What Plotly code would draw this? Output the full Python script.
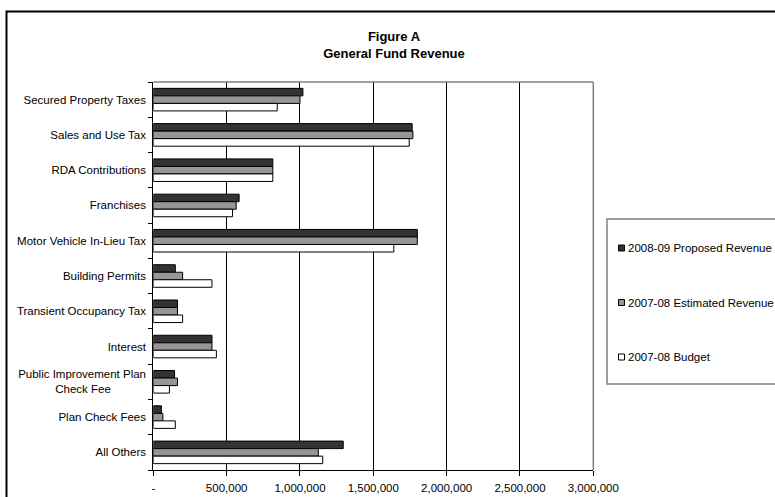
import plotly.graph_objects as go

# Revenue sources, top to bottom
categories = [
    "Secured Property Taxes",
    "Sales and Use Tax",
    "RDA Contributions",
    "Franchises",
    "Motor Vehicle In-Lieu Tax",
    "Building Permits",
    "Transient Occupancy Tax",
    "Interest",
    "Public Improvement Plan Check Fee",
    "Plan Check Fees",
    "All Others",
]

proposed_2008_09 = [1020000, 1765000, 815000, 585000, 1800000, 150000, 165000, 400000, 145000, 55000, 1295000]
estimated_2007_08 = [1000000, 1770000, 815000, 565000, 1800000, 200000, 165000, 400000, 165000, 65000, 1125000]
budget_2007_08 = [845000, 1745000, 815000, 540000, 1640000, 400000, 200000, 430000, 110000, 150000, 1155000]

series_names = ["2008-09 Proposed Revenue", "2007-08 Estimated Revenue", "2007-08 Budget"]
series_values = [proposed_2008_09, estimated_2007_08, budget_2007_08]
series_colors = ["#333333", "#969696", "#ffffff"]

x_tick_values = [0, 500000, 1000000, 1500000, 2000000, 2500000, 3000000]
x_tick_labels = ["-", "500,000", "1,000,000", "1,500,000", "2,000,000", "2,500,000", "3,000,000"]

W, H = 775, 497
FONT = "Liberation Sans, Arial, sans-serif"
TXT = 11.5


def px(x):
    return x / W


def py(y):
    return 1 - y / H


# Long category names wrap onto a second, centred line
NBSP = "\u00a0"
tick_text = []
for c in categories:
    if c == "Public Improvement Plan Check Fee":
        tick_text.append("Public Improvement Plan<br>Check Fee" + NBSP * 11)
    else:
        tick_text.append(c)

fig = go.Figure()
for name, vals, color in zip(series_names, series_values, series_colors):
    fig.add_trace(go.Bar(
        y=categories,
        x=vals,
        name=name,
        orientation="h",
        marker=dict(color=color, line=dict(color="#000000", width=1)),
        showlegend=False,
    ))

shapes = [
    # outer chart frame (left and top edges; runs off the right and bottom)
    dict(type="path", xref="paper", yref="paper",
         path=f"M {px(6.5)},0 L {px(6.5)},{py(11.5)} L 1,{py(11.5)}",
         line=dict(color="#000000", width=2)),
    # plot area top and right edges
    dict(type="line", xref="x domain", yref="y domain", x0=0, x1=1, y0=1, y1=1,
         line=dict(color="#808080", width=1.5)),
    dict(type="line", xref="x domain", yref="y domain", x0=1, x1=1, y0=0, y1=1,
         line=dict(color="#808080", width=1.5)),
    # legend frame
    dict(type="path", xref="paper", yref="paper",
         path=f"M 1,{py(219)} L {px(607)},{py(219)} L {px(607)},{py(384)} L 1,{py(384)}",
         line=dict(color="#808080", width=1.5)),
]

annotations = []
legend_y = [248, 302.5, 357]
for name, color, ly in zip(series_names, series_colors, legend_y):
    shapes.append(dict(type="rect", xref="paper", yref="paper",
                       x0=px(618.5), x1=px(624.5), y0=py(ly + 3), y1=py(ly - 3),
                       line=dict(color="#000000", width=1), fillcolor=color))
    annotations.append(dict(xref="paper", yref="paper", x=px(625.5), y=py(ly),
                            xanchor="left", yanchor="middle", showarrow=False,
                            text=name, font=dict(family=FONT, size=TXT, color="#000000")))

fig.update_layout(
    width=W, height=H,
    autosize=False,
    margin=dict(l=0, r=0, t=0, b=0, pad=0, autoexpand=False),
    paper_bgcolor="#ffffff",
    plot_bgcolor="#ffffff",
    barmode="group",
    bargap=0.36,
    bargroupgap=0,
    font=dict(family=FONT, size=TXT, color="#000000"),
    title=dict(
        text="<b>Figure A<br>General Fund Revenue</b>",
        x=px(394), xanchor="center",
        y=py(41), yanchor="middle",
        font=dict(family=FONT, size=13, color="#000000"),
    ),
    xaxis=dict(
        domain=[px(153.3), px(593.3)],
        range=[0, 3000000],
        automargin=False,
        tickmode="array",
        tickvals=x_tick_values,
        ticktext=x_tick_labels,
        ticks="outside", ticklen=5, tickcolor="#000000", tickwidth=1,
        showline=True, linecolor="#000000", linewidth=1,
        showgrid=True, gridcolor="#000000", gridwidth=1,
        zeroline=False,
        ticklabelstandoff=2,
        tickfont=dict(family=FONT, size=TXT, color="#000000"),
    ),
    yaxis=dict(
        domain=[py(470), py(82)],
        type="category",
        autorange=False,
        automargin=False,
        range=[len(categories) - 0.5, -0.5],
        tickmode="array",
        tickvals=categories,
        ticktext=tick_text,
        tickson="boundaries",
        ticks="outside", ticklen=4, tickcolor="#000000", tickwidth=1,
        showline=True, linecolor="#000000", linewidth=1,
        showgrid=False,
        zeroline=False,
        ticklabelstandoff=4,
        tickfont=dict(family=FONT, size=TXT, color="#000000"),
    ),
    shapes=shapes,
    annotations=annotations,
)

fig.write_html("out.html")
